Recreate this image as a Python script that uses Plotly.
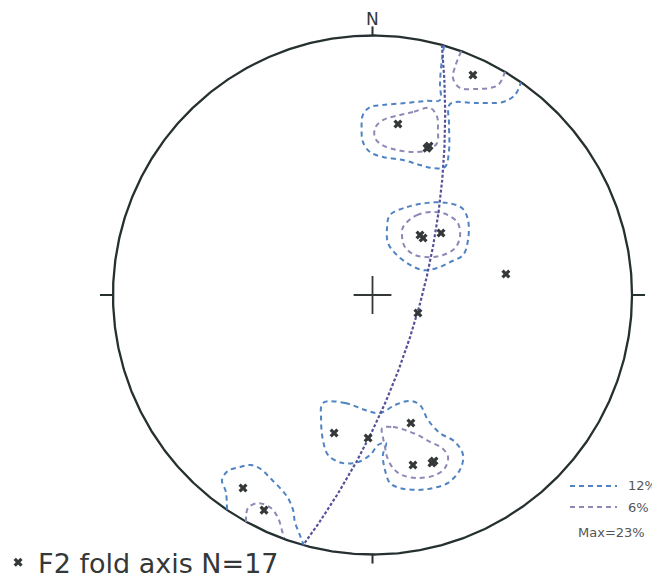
import numpy as np
import plotly.graph_objects as go

# F2 fold axes, position on the net: east / north, primitive circle = 1
AXIS_E = [0.387, 0.098, 0.210, 0.218, 0.183, 0.195, 0.264, 0.514, 0.175,
          -0.148, -0.017, 0.148, 0.156, 0.229, 0.237, -0.499, -0.418]
AXIS_N = [0.848, 0.659, 0.566, 0.574, 0.231, 0.220, 0.239, 0.081, -0.069,
          -0.532, -0.551, -0.493, -0.655, -0.647, -0.640, -0.744, -0.829]
AXIS_LABEL = "F2 fold axis N=17"

# best-fit girdle (right-hand rule), equal-angle net
GIRDLE_STRIKE = 15.5
GIRDLE_DIP = 69.0

# density contours (east, north)
C12_NORTH = [(0.276, 0.961), (0.264, 0.875), (0.260, 0.809), (0.260, 0.751),
             (0.206, 0.748), (0.129, 0.740), (0.040, 0.732), (-0.010, 0.724),
             (-0.037, 0.694), (-0.042, 0.644), (-0.037, 0.590), (-0.010, 0.551),
             (0.040, 0.532), (0.118, 0.520), (0.183, 0.501), (0.233, 0.489),
             (0.279, 0.493), (0.295, 0.559), (0.295, 0.655), (0.299, 0.736),
             (0.403, 0.740), (0.503, 0.744), (0.549, 0.771), (0.572, 0.820)]
C6_NORTH_A = [(0.342, 0.940), (0.318, 0.879), (0.310, 0.836), (0.337, 0.798),
              (0.403, 0.794), (0.453, 0.798), (0.484, 0.809), (0.503, 0.840),
              (0.511, 0.863)]
C6_NORTH_B = [(0.222, 0.721), (0.156, 0.705), (0.106, 0.694), (0.040, 0.674),
              (0.010, 0.644), (0.010, 0.605), (0.037, 0.578), (0.094, 0.559),
              (0.156, 0.551), (0.214, 0.559), (0.249, 0.586), (0.252, 0.636),
              (0.249, 0.686), (0.222, 0.721)]
C12_MIDDLE = [(0.067, 0.308), (0.133, 0.339), (0.210, 0.355), (0.287, 0.355),
              (0.345, 0.335), (0.368, 0.289), (0.368, 0.212), (0.349, 0.154),
              (0.299, 0.127), (0.249, 0.104), (0.195, 0.096), (0.145, 0.116),
              (0.094, 0.154), (0.060, 0.200), (0.056, 0.258), (0.067, 0.308)]
C6_MIDDLE = [(0.118, 0.262), (0.171, 0.308), (0.241, 0.320), (0.291, 0.308),
             (0.329, 0.277), (0.337, 0.224), (0.318, 0.181), (0.272, 0.154),
             (0.222, 0.146), (0.164, 0.154), (0.125, 0.185), (0.114, 0.224),
             (0.118, 0.262)]
C12_SOUTH = [(-0.191, -0.416), (-0.106, -0.416), (-0.029, -0.443), (0.029, -0.455),
             (0.087, -0.424), (0.145, -0.408), (0.183, -0.424), (0.214, -0.482),
             (0.260, -0.532), (0.318, -0.566), (0.349, -0.617), (0.337, -0.674),
             (0.291, -0.724), (0.233, -0.744), (0.175, -0.751), (0.106, -0.744),
             (0.067, -0.724), (0.048, -0.674), (0.040, -0.617), (0.052, -0.570),
             (0.021, -0.578), (-0.006, -0.613), (-0.056, -0.644), (-0.118, -0.647),
             (-0.171, -0.617), (-0.191, -0.559), (-0.198, -0.482), (-0.191, -0.416)]
C6_SOUTH = [(0.037, -0.513), (0.079, -0.509), (0.125, -0.520), (0.175, -0.540),
            (0.222, -0.566), (0.268, -0.590), (0.291, -0.624), (0.279, -0.667),
            (0.241, -0.694), (0.175, -0.705), (0.114, -0.694), (0.079, -0.667),
            (0.056, -0.624), (0.048, -0.586), (0.040, -0.547), (0.037, -0.513)]
C12_SW = [(-0.561, -0.828), (-0.565, -0.759), (-0.580, -0.713), (-0.557, -0.678),
          (-0.511, -0.663), (-0.468, -0.655), (-0.426, -0.674), (-0.395, -0.705),
          (-0.356, -0.744), (-0.326, -0.782), (-0.306, -0.829), (-0.299, -0.875),
          (-0.283, -0.917), (-0.265, -0.964)]
C6_SW = [(-0.487, -0.875), (-0.480, -0.821), (-0.441, -0.802), (-0.391, -0.821),
         (-0.364, -0.859), (-0.349, -0.906), (-0.341, -0.936)]

LEVEL_HI, LEVEL_LO, MAX_LABEL = "12%", "6%", "Max=23%"

FRAME = "#263030"
INK = "#343838"
BLUE = "#4f83c2"
PURPLE = "#8d89b6"
GIRDLE = "#55529a"
FONT = "DejaVu Sans, Arial, sans-serif"

fig = go.Figure()

# primitive circle + N/E/S/W ticks
t = np.linspace(0, 2 * np.pi, 721)
fig.add_trace(go.Scatter(x=np.cos(t), y=np.sin(t), mode="lines",
                         line=dict(color=FRAME, width=2.3),
                         hoverinfo="skip", showlegend=False))
fig.add_trace(go.Scatter(
    x=[0, 0, None, 1, 1.05, None, 0, 0, None, -1, -1.05],
    y=[1, 1.035, None, 0, 0, None, -1, -1.035, None, 0, 0],
    mode="lines", line=dict(color=FRAME, width=2),
    hoverinfo="skip", showlegend=False))

# centre cross
fig.add_trace(go.Scatter(x=[0], y=[0], mode="markers",
                         marker=dict(symbol="cross-thin", size=27,
                                     line=dict(color=INK, width=1.8)),
                         hoverinfo="skip", showlegend=False))


def contour(pts, color):
    e, n = zip(*pts)
    fig.add_trace(go.Scatter(x=e, y=n, mode="lines",
                             line=dict(color=color, width=2, dash="5px,4px",
                                       shape="spline", smoothing=1.0),
                             hoverinfo="skip", showlegend=False))


for c in (C12_NORTH, C12_MIDDLE, C12_SOUTH, C12_SW):
    contour(c, BLUE)
for c in (C6_NORTH_A, C6_NORTH_B, C6_MIDDLE, C6_SOUTH, C6_SW):
    contour(c, PURPLE)

# girdle great circle (Wulff projection)
theta = np.radians(np.linspace(0, 180, 361))
d = np.radians(GIRDLE_DIP)
plunge = np.arcsin(np.sin(d) * np.sin(theta))
trend = np.radians(GIRDLE_STRIKE) + np.arctan2(np.cos(d) * np.sin(theta), np.cos(theta))
r = np.tan((np.pi / 2 - plunge) / 2)
fig.add_trace(go.Scatter(x=r * np.sin(trend), y=r * np.cos(trend), mode="lines",
                         line=dict(color=GIRDLE, width=2.2, dash="3px,2px"),
                         hoverinfo="skip", showlegend=False))

# fold axes
fig.add_trace(go.Scatter(x=AXIS_E, y=AXIS_N, mode="markers", name=AXIS_LABEL,
                         marker=dict(symbol="x", size=8, color=INK,
                                     line=dict(width=0))))

# contour key
key_y = [0.1787, 0.1426]
for y, col, lab in zip(key_y, (BLUE, PURPLE), (LEVEL_HI, LEVEL_LO)):
    fig.add_shape(type="line", xref="paper", yref="paper",
                  x0=0.8515, x1=0.9227, y0=y, y1=y,
                  line=dict(color=col, width=2.2, dash="5px,4px"))
    fig.add_annotation(x=0.936, y=y, xref="paper", yref="paper", text=lab,
                       showarrow=False, xanchor="left", yanchor="middle",
                       font=dict(size=13, color="#555", family=FONT))
fig.add_annotation(x=0.915, y=0.098, xref="paper", yref="paper", text=MAX_LABEL,
                   showarrow=False, xanchor="center", yanchor="middle",
                   font=dict(size=13, color="#555", family=FONT))

fig.add_annotation(x=0, y=1.062, text="N", showarrow=False, yanchor="middle",
                   font=dict(size=17, color=INK, family=FONT))

fig.update_layout(
    width=660, height=582,
    margin=dict(l=0, r=0, t=0, b=0, autoexpand=False),
    paper_bgcolor="white", plot_bgcolor="white",
    xaxis=dict(range=[-1.4046, 1.1387], visible=False, fixedrange=True),
    yaxis=dict(range=[-1.1368, 1.1060], visible=False, fixedrange=True),
    legend=dict(x=-0.015, y=0.047, xanchor="left", yanchor="middle",
                bgcolor="rgba(0,0,0,0)",
                font=dict(size=27, color=INK, family=FONT)),
    font=dict(family=FONT),
)

fig.write_html("out.html")
